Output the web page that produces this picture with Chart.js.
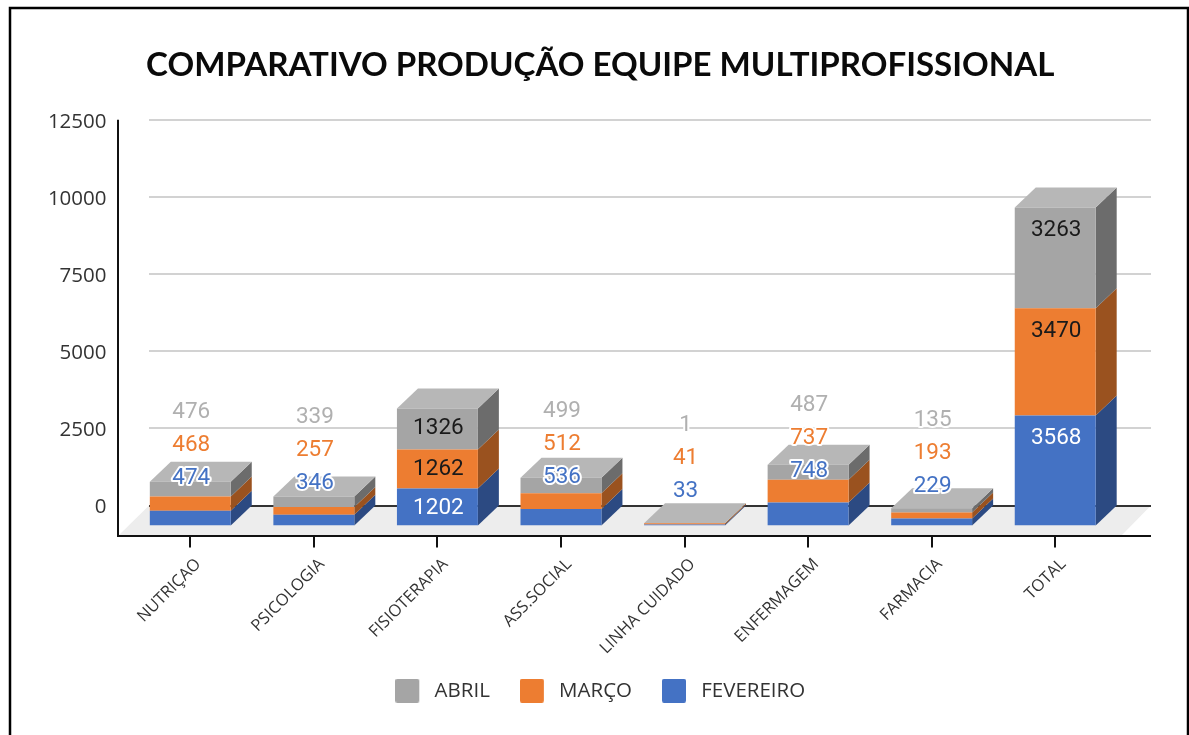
<!DOCTYPE html>
<html lang="pt">
<head>
<meta charset="utf-8">
<title>Comparativo</title>
<script src="https://cdn.jsdelivr.net/npm/chart.js@4/dist/chart.umd.min.js"></script>
<style>html,body{margin:0;padding:0;background:#fff}canvas{display:block}</style>
</head>
<body>
<canvas id="c" width="1189" height="735"></canvas>
<script>
const categories = ['NUTRIÇAO','PSICOLOGIA','FISIOTERAPIA','ASS.SOCIAL','LINHA CUIDADO','ENFERMAGEM','FARMACIA','TOTAL'];
const fevereiro = [474,346,1202,536,33,748,229,3568];
const marco = [468,257,1262,512,41,737,193,3470];
const abril = [476,339,1326,499,1,487,135,3263];
const yTicks = [0,2500,5000,7500,10000,12500];

// Height above the bar foot of the first label, for bars too short to hold their labels.
const labelLift = {0:47.5,1:42.5,3:48.5,4:34.5,5:54.5,6:39.5};
const labelStep = 32.7;
// Drop below the segment top, for bars that hold their labels.
const insideDrop = {2:20,7:23};
const DX = 21, DY = 20;

function swatch(color){
  const cv = document.createElement('canvas');
  cv.width = 29; cv.height = 24;
  const g = cv.getContext('2d');
  g.fillStyle = color;
  g.beginPath(); g.roundRect(0,0,24,24,2); g.fill();
  return cv;
}
function poly(ctx, pts, fill){
  ctx.fillStyle = fill;
  ctx.beginPath();
  pts.forEach((p,i)=> i?ctx.lineTo(p[0],p[1]):ctx.moveTo(p[0],p[1]));
  ctx.closePath(); ctx.fill();
}
const sideColors = ['#2C4A82','#9A521F','#6C6C6C'];
const labelColors = ['#4472C4','#ED7D31','#B0B0B0'];
const insideColors = ['#FFFFFF','#1A1A1A','#1A1A1A'];

const scene = {
  id:'scene',
  afterLayout(chart){
    // Long rotated category names run down beside the legend; keep them from being cut.
    chart.scales.x.bottom = 720;
  },
  beforeDatasetsDraw(chart){
    const {ctx, scales:{y}} = chart;
    const zero = y.getPixelForValue(0);
    const wallL = 149, wallR = 1151, axisX = 118, axisY = 536;
    ctx.save();
    poly(ctx, [[axisX,axisY],[wallL,zero-DY],[wallR,zero-DY],[wallR-30,axisY]], '#EDEDED');
    ctx.lineWidth = 2;
    y.ticks.forEach(t=>{
      const py = Math.round(y.getPixelForValue(t.value)-DY);
      ctx.strokeStyle = t.value===0 ? '#333333' : '#D2D2D2';
      ctx.beginPath(); ctx.moveTo(wallL,py); ctx.lineTo(wallR,py); ctx.stroke();
    });
    ctx.strokeStyle = '#111';
    ctx.beginPath(); ctx.moveTo(axisX,y.getPixelForValue(12500)-DY); ctx.lineTo(axisX,axisY); ctx.lineTo(wallR,axisY); ctx.stroke();
    chart.data.datasets.forEach((d,i)=>{
      chart.getDatasetMeta(i).data.forEach(b=>{
        const r = b.x+b.width/2, l = b.x-b.width/2;
        poly(ctx, [[r,b.y],[r+DX,b.y-DY],[r+DX,b.base-DY],[r,b.base]], sideColors[i]);
        if(i===chart.data.datasets.length-1)
          poly(ctx, [[l,b.y],[l+DX,b.y-DY],[r+DX,b.y-DY],[r,b.y]], '#B7B7B7');
      });
    });
    ctx.restore();
  },
  afterDatasetsDraw(chart){
    const {ctx, scales:{y}} = chart;
    const foot = y.getPixelForValue(0);
    ctx.save();
    ctx.font = '22.5px Roboto';
    ctx.textAlign = 'center';
    ctx.textBaseline = 'middle';
    ctx.lineJoin = 'round';
    chart.data.datasets.forEach((d,i)=>{
      chart.getDatasetMeta(i).data.forEach((b,j)=>{
        const txt = String(d.data[j]);
        const lift = labelLift[j];
        const lx = b.x+1;
        if(lift===undefined){
          ctx.fillStyle = insideColors[i];
          ctx.fillText(txt,lx,b.y+insideDrop[j]);
        }else{
          const py = foot - lift - labelStep*i;
          ctx.strokeStyle = '#fff'; ctx.lineWidth = 4;
          ctx.strokeText(txt,lx,py);
          ctx.fillStyle = labelColors[i];
          ctx.fillText(txt,lx,py);
        }
      });
    });
    ctx.restore();
  },
  afterDraw(chart){
    const {ctx} = chart;
    ctx.save();
    ctx.strokeStyle = '#000'; ctx.lineWidth = 2.5;
    ctx.strokeRect(10,8,1178,760);
    ctx.restore();
  }
};

new Chart(document.getElementById('c'),{
  type:'bar',
  plugins:[scene],
  data:{
    labels:categories,
    datasets:[
      {label:'FEVEREIRO',data:fevereiro,backgroundColor:'#4472C4'},
      {label:'MARÇO',data:marco,backgroundColor:'#ED7D31'},
      {label:'ABRIL',data:abril,backgroundColor:'#A5A5A5'}
    ]
  },
  options:{
    responsive:false,
    animation:false,
    layout:{padding:{left:11.5,right:0,top:0,bottom:24}},
    datasets:{bar:{barPercentage:0.655,categoryPercentage:1}},
    scales:{
      x:{
        stacked:true,
        afterFit(s){ s.height = 125; },
        border:{display:false},
        grid:{offset:false,drawOnChartArea:false,tickLength:22,color:'#111',lineWidth:2},
        ticks:{minRotation:45,maxRotation:45,autoSkip:false,padding:7,labelOffset:8,
               color:'#333',font:{family:'Open Sans',size:16.5}}
      },
      y:{
        stacked:true,min:0,max:12500,
        afterFit(s){ s.width = 117; },
        afterBuildTicks(s){ s.ticks = yTicks.map(v=>({value:v})); },
        border:{display:false},
        grid:{display:false,drawTicks:false},
        ticks:{padding:22,labelOffset:-18,color:'#333',font:{family:'Open Sans',size:20.5},
               callback:v=>String(v)}
      },
      spacer:{
        position:'right',
        afterFit(s){ s.width = 72; },
        border:{display:false},
        grid:{display:false},
        ticks:{display:false}
      }
    },
    plugins:{
      tooltip:{enabled:false},
      title:{
        display:true,
        text:'COMPARATIVO PRODUÇÃO EQUIPE MULTIPROFISSIONAL',
        color:'#0a0a0a',
        font:{family:'Lato',size:33.1,weight:'bold',lineHeight:1.2},
        padding:{top:45,bottom:55}
      },
      legend:{
        position:'bottom',
        reverse:true,
        labels:{
          color:'#333',
          font:{family:'Open Sans',size:20.5},
          usePointStyle:true,
          pointStyleWidth:29,
          padding:30,
          generateLabels(chart){
            const items = Chart.defaults.plugins.legend.labels.generateLabels(chart);
            items.forEach(it=>{ it.pointStyle = swatch(it.fillStyle); });
            return items;
          }
        }
      }
    }
  }
});
</script>
</body>
</html>
